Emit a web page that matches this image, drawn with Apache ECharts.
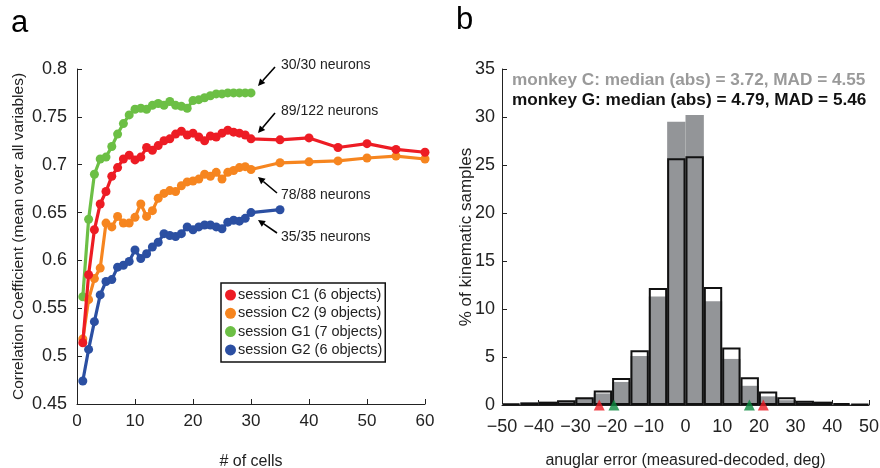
<!DOCTYPE html>
<html>
<head>
<meta charset="utf-8">
<script src="https://cdn.jsdelivr.net/npm/echarts@6/dist/echarts.min.js"></script>
<style>html,body{margin:0;padding:0;background:#fff}#c{width:880px;height:468px}</style>
</head>
<body>
<div id="c"></div>
<script>
// ---- panel a data ----
const cellsC = [1,2,3,4,5,6,7,8,9,10,11,12,13,14,15,16,17,18,19,20,21,22,23,24,25,26,27,28,29,30,35,40,45,50,55,60];
const cellsG1 = [1,2,3,4,5,6,7,8,9,10,11,12,13,14,15,16,17,18,19,20,21,22,23,24,25,26,27,28,29,30];
const cellsG2 = [1,2,3,4,5,6,7,8,9,10,11,12,13,14,15,16,17,18,19,20,21,22,23,24,25,26,27,28,29,30,35];
const sessionC1 = [0.514,0.585,0.632,0.659,0.672,0.688,0.697,0.706,0.710,0.705,0.708,0.718,0.715,0.720,0.725,0.727,0.732,0.735,0.731,0.733,0.729,0.725,0.730,0.729,0.733,0.736,0.734,0.733,0.731,0.727,0.726,0.728,0.718,0.722,0.716,0.713];
const sessionC2 = [0.518,0.559,0.581,0.592,0.639,0.635,0.646,0.639,0.639,0.645,0.659,0.646,0.652,0.665,0.670,0.673,0.672,0.678,0.682,0.683,0.685,0.690,0.688,0.692,0.685,0.692,0.694,0.697,0.698,0.695,0.702,0.703,0.704,0.707,0.709,0.706];
const sessionG1 = [0.562,0.643,0.690,0.706,0.708,0.719,0.732,0.743,0.752,0.758,0.759,0.758,0.762,0.764,0.762,0.766,0.762,0.761,0.759,0.767,0.768,0.770,0.772,0.774,0.774,0.775,0.775,0.775,0.775,0.775];
const sessionG2 = [0.474,0.507,0.536,0.564,0.578,0.580,0.593,0.595,0.599,0.611,0.602,0.607,0.614,0.619,0.628,0.626,0.625,0.628,0.635,0.632,0.635,0.637,0.637,0.635,0.633,0.640,0.642,0.641,0.644,0.650,0.653];
const seriesNames = ['session C1 (6 objects)','session C2 (9 objects)','session G1 (7 objects)','session G2 (6 objects)'];
const neuronLabels = ['30/30 neurons','89/122 neurons','78/88 neurons','35/35 neurons'];

// ---- panel b data ----
const binStarts = [-50,-45,-40,-35,-30,-25,-20,-15,-10,-5,0,5,10,15,20,25,30,35,40,45];
const monkeyC = [0.1,0.3,0.2,0.4,0.7,1.2,2.4,5.1,11.3,29.5,30.2,10.8,4.8,2.0,0.9,0.5,0.3,0.2,0.1,0.05];
const monkeyG = [0.15,0.25,0.35,0.5,0.8,1.5,2.8,5.7,12.2,25.7,25.9,12.3,6.0,2.9,1.4,0.8,0.45,0.35,0.2,0.1];
const markC = [-23.5, 21.2];
const markG = [-19.5, 17.4];
const statC = 'monkey C: median (abs) = 3.72, MAD = 4.55';
const statG = 'monkey G: median (abs) = 4.79, MAD = 5.46';

const FONT = '"Liberation Sans", Arial, Helvetica, sans-serif';
const colors = ['#ed1c24','#f6851f','#6cbf45','#2b4fa2'];

function pairs(xs, ys){ return xs.map((x,i)=>[x, ys[i]]); }

function arrow(x1,y1,x2,y2){
  const dx=x2-x1, dy=y2-y1, L=Math.sqrt(dx*dx+dy*dy), ux=dx/L, uy=dy/L;
  const hl=7, hw=3.5;
  const bx=x2-ux*hl, by=y2-uy*hl;
  return [
    {type:'line', shape:{x1:x1,y1:y1,x2:bx,y2:by}, style:{stroke:'#000', lineWidth:1.6}, z:50},
    {type:'polygon', shape:{points:[[x2,y2],[bx-uy*hw,by+ux*hw],[bx+uy*hw,by-ux*hw]]}, style:{fill:'#000'}, z:50}
  ];
}

const chart = echarts.init(document.getElementById('c'), null, {renderer:'canvas'});

const axisLine = {onZero:false, lineStyle:{color:'#222', width:1}};
const axisTick = {inside:true, length:5, lineStyle:{color:'#222', width:1}};

const lineSeries = [sessionC1, sessionC2, sessionG1, sessionG2].map((ys, i) => ({
  name: seriesNames[i],
  type: 'line',
  xAxisIndex: 0, yAxisIndex: 0,
  data: pairs([cellsC, cellsC, cellsG1, cellsG2][i], ys),
  symbol: 'circle', symbolSize: 9,
  lineStyle: {width: 3.2, color: colors[i]},
  itemStyle: {color: colors[i]},
  z: 10 - i,
  animation: false
}));

const graphics = [
  {type:'text', left:11, top:8, style:{text:'a', font:'31px '+FONT, fill:'#000'}},
  {type:'text', left:456, top:5, style:{text:'b', font:'31px '+FONT, fill:'#000'}},
  {type:'text', x:512, y:80, style:{text:statC, font:'bold 17.2px '+FONT, fill:'#9a9a9a', textVerticalAlign:'middle'}},
  {type:'text', x:512, y:100, style:{text:statG, font:'bold 17.2px '+FONT, fill:'#111', textVerticalAlign:'middle'}},
  {type:'text', x:281, y:65, style:{text:neuronLabels[0], font:'14px '+FONT, fill:'#222', textVerticalAlign:'middle'}},
  {type:'text', x:281, y:111, style:{text:neuronLabels[1], font:'14px '+FONT, fill:'#222', textVerticalAlign:'middle'}},
  {type:'text', x:281, y:195, style:{text:neuronLabels[2], font:'14px '+FONT, fill:'#222', textVerticalAlign:'middle'}},
  {type:'text', x:281, y:237, style:{text:neuronLabels[3], font:'14px '+FONT, fill:'#222', textVerticalAlign:'middle'}}
].concat(
  arrow(275,67,258,86),
  arrow(275,113,258,133),
  arrow(277,193,258,177),
  arrow(277,233,258,220)
);

const option = {
  animation: false,
  backgroundColor: '#fff',
  textStyle: {fontFamily: FONT},
  grid: [
    {left:77, top:69, width:348, height:335, containLabel:false, outerBoundsMode:'none'},
    {left:502, top:69, width:367, height:336, containLabel:false, outerBoundsMode:'none'}
  ],
  legend: {
    data: seriesNames,
    orient: 'vertical',
    left: 221, top: 283,
    icon: 'circle', itemWidth: 11, itemHeight: 11, itemGap: 2.3,
    padding: [4, 3, 4, 4],
    borderColor: '#111', borderWidth: 1.5,
    backgroundColor: '#fff',
    textStyle: {fontSize: 14.5, color:'#222', fontFamily: FONT, lineHeight: 16, padding:[0,0,0,-3]},
    selectedMode: false
  },
  xAxis: [
    {gridIndex:0, type:'value', position:'bottom', min:0, max:60, interval:10,
     axisLine, axisTick, splitLine:{show:false},
     axisLabel:{fontSize:17, color:'#222', margin:9},
     name:'# of cells', nameLocation:'middle', nameGap:50, nameMoveOverlap:false,
     nameTextStyle:{fontSize:16, color:'#222'}},
    {gridIndex:1, type:'category', position:'bottom', data: binStarts, show:false, boundaryGap:true},
    {gridIndex:1, type:'value', position:'bottom', min:-50, max:50, interval:10,
     axisLine, axisTick, splitLine:{show:false},
     axisLabel:{fontSize:18, color:'#222', margin:13, formatter: v => String(v).replace('-', '\u2212')},
     name:'anuglar error (measured-decoded, deg)', nameLocation:'middle', nameGap:48, nameMoveOverlap:false,
     nameTextStyle:{fontSize:16, color:'#222'}}
  ],
  yAxis: [
    {gridIndex:0, type:'value', position:'left', min:0.45, max:0.8, interval:0.05,
     axisLine:{show:true, onZero:false, lineStyle:{color:'#222', width:1}}, axisTick, splitLine:{show:false},
     axisLabel:{fontSize:18, color:'#222', margin:10, formatter: v => String(+v.toFixed(2))},
     name:'Correlation Coefficient (mean over all variables)', nameLocation:'middle', nameGap:50, nameMoveOverlap:false,
     nameTextStyle:{fontSize:15.5, color:'#222'}},
    {gridIndex:1, type:'value', position:'left', min:0, max:35, interval:5,
     axisLine:{show:true, onZero:false, lineStyle:{color:'#222', width:1}}, axisTick, splitLine:{show:false},
     axisLabel:{fontSize:18, color:'#222', margin:7},
     name:'% of kinematic samples', nameLocation:'middle', nameGap:27, nameMoveOverlap:false,
     nameTextStyle:{fontSize:17, color:'#222'}}
  ],
  series: lineSeries.concat([
    {type:'bar', name:'monkey C', xAxisIndex:1, yAxisIndex:1, data: monkeyC,
     barWidth:'100%', barGap:'-100%', itemStyle:{color:'#939598'}, z:2},
    {type:'bar', name:'monkey G', xAxisIndex:1, yAxisIndex:1, data: monkeyG,
     barWidth:'100%', barGap:'-100%', itemStyle:{color:'rgba(0,0,0,0)', borderColor:'#111', borderWidth:2}, z:3},
    {type:'scatter', name:'median C', xAxisIndex:2, yAxisIndex:1, data: markC.map(v=>[v,0]),
     symbol:'triangle', symbolSize:[11,11], symbolOffset:[0,0], itemStyle:{color:'#ed1c24'}, clip:false, z:5},
    {type:'scatter', name:'median G', xAxisIndex:2, yAxisIndex:1, data: markG.map(v=>[v,0]),
     symbol:'triangle', symbolSize:[11,11], symbolOffset:[0,0], itemStyle:{color:'#0b8a3e'}, clip:false, z:5}
  ]),
  graphic: graphics
};
chart.setOption(option);
</script>
</body>
</html>
